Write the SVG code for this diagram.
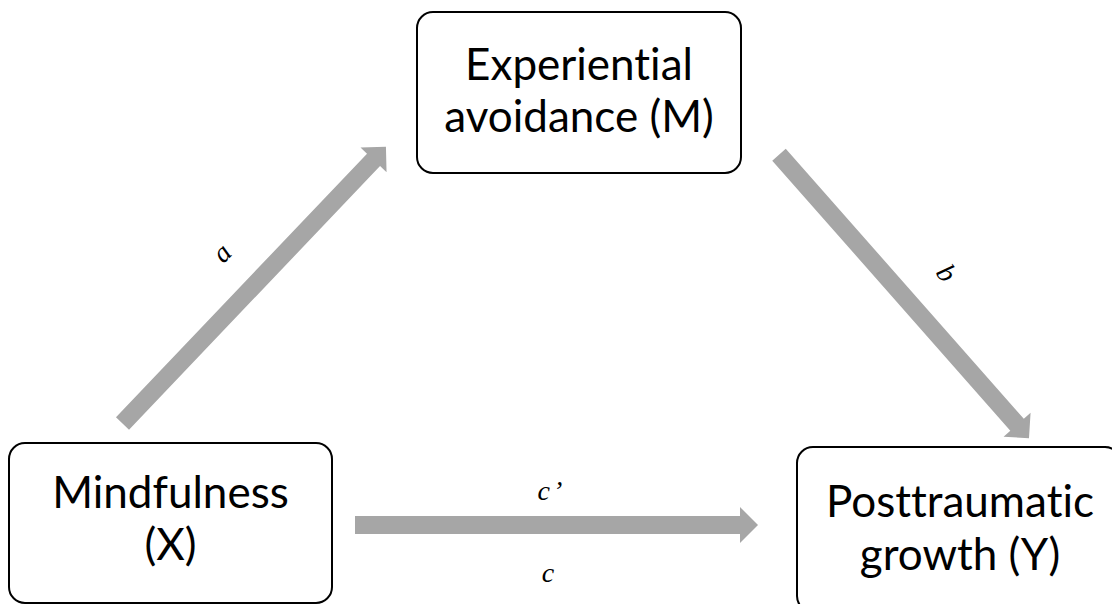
<svg xmlns="http://www.w3.org/2000/svg" width="1112" height="604" viewBox="0 0 1112 604">
<style>
.box{fill:#fff;stroke:#000;stroke-width:2}
.lbl{font-family:Lato,"Open Sans",sans-serif;font-size:44px;fill:#000;text-anchor:middle;font-variant-ligatures:none}
.arr{fill:#A6A6A6}
.it{font-family:"Liberation Serif","Times New Roman",serif;font-style:italic;font-size:28px;fill:#000;text-anchor:middle}
</style>
<rect width="1112" height="604" fill="#fff"/>
<g id="connectors">
  <g id="arrow-a" transform="translate(122.5,423.5) rotate(-46.4)">
    <polygon class="arr" points="0,-9 364,-9 364,-18 382,0 364,18 364,9 0,9"/>
  </g>
  <g id="arrow-b" transform="translate(779,154.7) rotate(48.6)">
    <polygon class="arr" points="0,-9 360,-9 360,-18 378,0 360,18 360,9 0,9"/>
  </g>
  <g id="arrow-c" transform="translate(355,525)">
    <polygon class="arr" points="0,-9 385,-9 385,-18 403,0 385,18 385,9 0,9"/>
  </g>
  <text class="it" transform="translate(224,255) rotate(-46.4)" y="6">a</text>
  <text class="it" transform="translate(944,275) rotate(55)" y="6">b</text>
  <text class="it" x="550" y="500">c<tspan dx="3">’</tspan></text>
  <text class="it" x="548" y="582">c</text>
</g>
<g id="node-M">
  <rect class="box" x="417" y="12" width="324" height="161" rx="16"/>
  <text class="lbl" x="579" y="80">Experiential</text>
  <text class="lbl" x="579" y="132">avoidance (M)</text>
</g>
<g id="node-X">
  <rect class="box" x="9" y="443" width="323" height="160" rx="16"/>
  <text class="lbl" x="170.5" y="508">Mindfulness</text>
  <text class="lbl" x="170.5" y="560">(X)</text>
</g>
<g id="node-Y">
  <rect class="box" x="797" y="447" width="324" height="165" rx="16"/>
  <text class="lbl" x="960" y="517">Posttraumatic</text>
  <text class="lbl" x="960" y="570">growth (Y)</text>
</g>
</svg>
